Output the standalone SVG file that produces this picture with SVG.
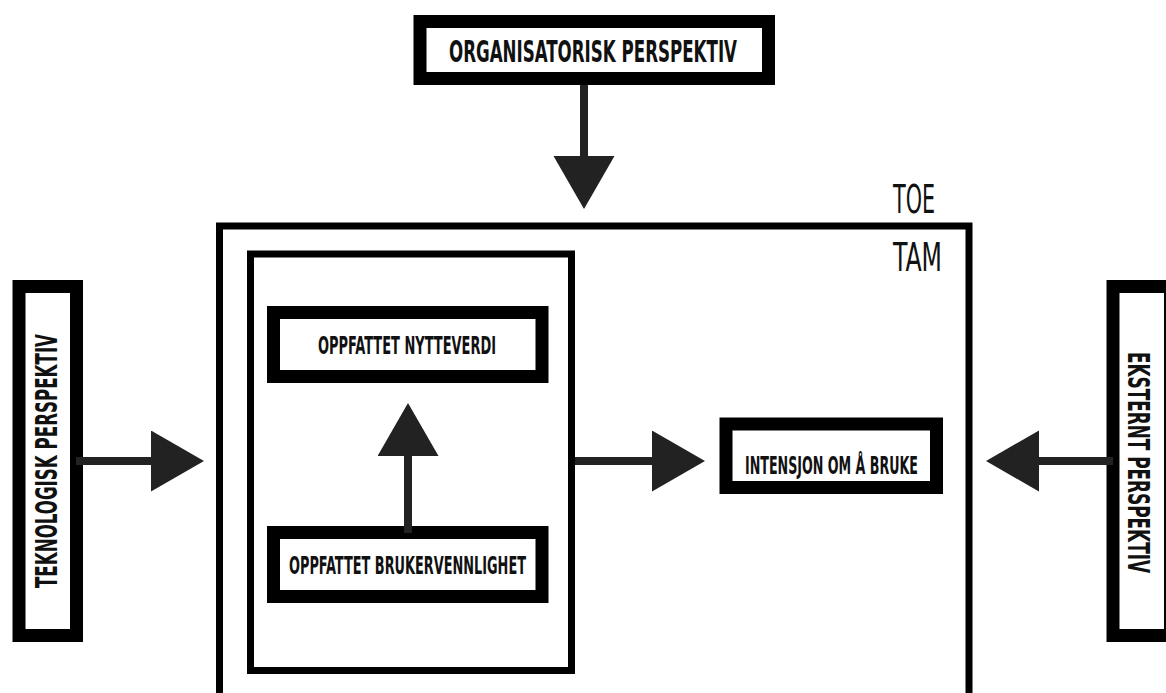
<svg xmlns="http://www.w3.org/2000/svg" width="1166" height="693" viewBox="0 0 1166 693">
<style>
.thick{fill:#fff;stroke:#000;stroke-width:13}
.thin{fill:none;stroke:#000;stroke-width:7}
.lbl{font-family:"Liberation Sans Narrow","DejaVu Sans Condensed","Liberation Sans",sans-serif;font-weight:bold;fill:#111;text-anchor:middle}
.big{font-size:30px}
.small{font-size:24px}
.frame{font-family:"Liberation Sans Narrow","DejaVu Sans Condensed","Liberation Sans",sans-serif;font-weight:normal;font-size:39px;fill:#111}
.conn{stroke:#222;stroke-width:8;fill:none;marker-end:url(#ah)}
</style>
<defs>
<marker id="ah" markerUnits="userSpaceOnUse" markerWidth="54" markerHeight="62" refX="1" refY="30.5" orient="auto" viewBox="0 0 54 62">
<path d="M0,0 L53,30.5 L0,61 Z" fill="#222"/>
</marker>
</defs>
<rect width="1166" height="693" fill="#fff"/>

<g id="toe">
<rect class="thin" x="219.5" y="226" width="749.5" height="480"/>
<text class="frame" x="893" y="213" textLength="42" lengthAdjust="spacingAndGlyphs">TOE</text>
</g>
<g id="tam">
<rect class="thin" x="250.5" y="254" width="321" height="416.5"/>
<text class="frame" x="893" y="271" textLength="49" lengthAdjust="spacingAndGlyphs">TAM</text>
</g>

<g id="organisatorisk">
<rect class="thick" x="420" y="21.5" width="348.5" height="57"/>
<text class="lbl big" x="593" y="62" textLength="288" lengthAdjust="spacingAndGlyphs">ORGANISATORISK PERSPEKTIV</text>
</g>
<g id="teknologisk">
<rect class="thick" x="19" y="286.5" width="57.5" height="349"/>
<text class="lbl big" transform="translate(57,461) rotate(-90)" x="0" y="0" textLength="254" lengthAdjust="spacingAndGlyphs">TEKNOLOGISK PERSPEKTIV</text>
</g>
<g id="eksternt">
<rect class="thick" x="1113" y="286.5" width="57.5" height="349"/>
<text class="lbl big" transform="translate(1128,462.5) rotate(90)" x="0" y="0" textLength="221" lengthAdjust="spacingAndGlyphs">EKSTERNT PERSPEKTIV</text>
</g>
<g id="nytteverdi">
<rect class="thick" x="273.5" y="312.5" width="268.5" height="64"/>
<text class="lbl small" x="407" y="354" textLength="178" lengthAdjust="spacingAndGlyphs">OPPFATTET NYTTEVERDI</text>
</g>
<g id="brukervennlighet">
<rect class="thick" x="273.5" y="532.5" width="268.5" height="64"/>
<text class="lbl small" x="407.5" y="574" textLength="237" lengthAdjust="spacingAndGlyphs">OPPFATTET BRUKERVENNLIGHET</text>
</g>
<g id="intensjon">
<rect class="thick" x="726" y="424" width="210.5" height="63.5"/>
<text class="lbl small" x="831.5" y="474" textLength="173" lengthAdjust="spacingAndGlyphs">INTENSJON OM Å BRUKE</text>
</g>

<g id="connectors">
<line class="conn" x1="584" y1="85" x2="584" y2="157"/>
<line class="conn" x1="76" y1="461" x2="152" y2="461"/>
<line class="conn" x1="408" y1="533" x2="408" y2="455"/>
<line class="conn" x1="575" y1="461" x2="653" y2="461"/>
<line class="conn" x1="1113" y1="461" x2="1038" y2="461"/>
</g>
</svg>
